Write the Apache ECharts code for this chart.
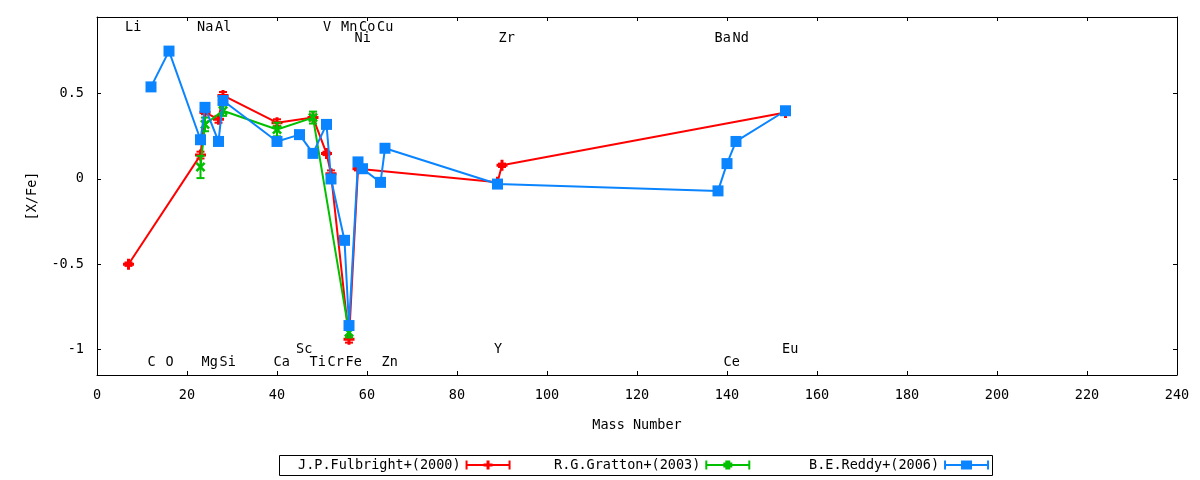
<!DOCTYPE html>
<html>
<head>
<meta charset="utf-8">
<title>[X/Fe] vs Mass Number</title>
<script src="https://cdn.jsdelivr.net/npm/echarts@6/dist/echarts.min.js"></script>
<style>
  html, body { margin: 0; padding: 0; background: #fff; }
  #chart { width: 1200px; height: 480px; }
</style>
</head>
<body>
<div id="chart"></div>
<script>
// element labels along the top and bottom of the frame
const elemNames = ["Li", "C", "O", "Na", "Mg", "Al", "Si", "Ca", "Sc", "Ti", "V", "Cr",
  "Mn", "Fe", "Co", "Ni", "Cu", "Zn", "Y", "Zr", "Ba", "Ce", "Nd", "Eu"];
const elemMass = [7, 12, 16, 23, 24, 27, 28, 40, 45, 48, 51, 52,
  55, 56, 59, 58, 63, 64, 89, 90, 138, 140, 142, 153];
const elemRow = ["t1", "b1", "b1", "t1", "b1", "t1", "b1", "b1", "b2", "b1", "t1", "b1",
  "t1", "b1", "t1", "t2", "t1", "b1", "b2", "t2", "t2", "b1", "t2", "b2"];

// J.P.Fulbright+(2000)
const fulbrightMass = [7, 23, 24, 27, 28, 40, 48, 51, 52, 56, 58, 89, 90, 153];
const fulbrightVal = [-0.50, 0.14, 0.39, 0.35, 0.49, 0.33, 0.36, 0.15, 0.03, -0.94, 0.06, -0.02, 0.08, 0.39];
const fulbrightErr = [0.01, 0.02, 0.01, 0.02, 0.02, 0.02, 0.01, 0.01, 0.02, 0.02, 0.01, 0.01, 0.01, 0.01];

// R.G.Gratton+(2003)
const grattonMass = [23, 24, 28, 40, 48, 56];
const grattonVal = [0.07, 0.32, 0.40, 0.29, 0.36, -0.90];
const grattonErr = [0.065, 0.04, 0.03, 0.04, 0.035, 0.03];

// B.E.Reddy+(2006)
const reddyMass = [12, 16, 23, 24, 27, 28, 40, 45, 48, 51, 52, 55, 56, 58, 59, 63, 64, 89, 138, 140, 142, 153];
const reddyVal = [0.54, 0.75, 0.23, 0.42, 0.22, 0.46, 0.22, 0.26, 0.15, 0.32, 0.00, -0.36, -0.86,
  0.10, 0.06, -0.02, 0.18, -0.03, -0.07, 0.09, 0.22, 0.40];

const yTicks = [-1, -0.5, 0, 0.5];

const FONT = "DejaVu Sans Mono";
const FSIZE = 13.5;
const RED = "#ff0000";
const GREEN = "#00c000";
const BLUE = "#0a84ff";

const rowValue = { t1: 0.89, t2: 0.825, b2: -1.0, b1: -1.078 };

const pairs = (xs, ys) => xs.map((x, i) => [x, ys[i]]);
const errData = (xs, ys, es) => xs.map((x, i) => [x, ys[i] - es[i], ys[i] + es[i]]);

const plusPath = "path://M4 0h3v4h4v3h-4v4h-3v-4h-4v-3h4z";
const crossPath = "path://M0 2L2 0L5.5 3.5L9 0L11 2L7.5 5.5L11 9L9 11L5.5 7.5L2 11L0 9L3.5 5.5Z";

// legend key: line with end caps and the point in the middle
const keyBase = "M0 0h2v9h-2z M43 0h2v9h-2z M0 3.5h45v2h-45z ";
const keyRed = "path://" + keyBase + "M21 0h3v9h-3z M18 3h9v3h-9z";
const keyGreen = "path://" + keyBase + "M20 0h5v9h-5z M18 2h9v5h-9z";
const keyBlue = "path://" + keyBase + "M17 0h11v9h-11z";

function errorBars(color) {
  return function (params, api) {
    const x = api.value(0);
    const lo = api.coord([x, api.value(1)]);
    const hi = api.coord([x, api.value(2)]);
    const w = 4;
    const st = { stroke: color, lineWidth: 2 };
    return {
      type: "group",
      children: [
        { type: "line", shape: { x1: lo[0], y1: lo[1], x2: hi[0], y2: hi[1] }, style: st },
        { type: "line", shape: { x1: lo[0] - w, y1: lo[1], x2: lo[0] + w, y2: lo[1] }, style: st },
        { type: "line", shape: { x1: hi[0] - w, y1: hi[1], x2: hi[0] + w, y2: hi[1] }, style: st },
      ],
    };
  };
}

function legendAt(left, name, icon, color) {
  return {
    left: left,
    top: 458,
    orient: "horizontal",
    align: "right",
    padding: 0,
    itemWidth: 45,
    itemHeight: 9,
    selectedMode: false,
    textStyle: { fontFamily: FONT, fontSize: FSIZE, color: "#000" },
    data: [{ name: name, icon: icon, itemStyle: { color: color } }],
  };
}

const chart = echarts.init(document.getElementById("chart"));

const frameLine = { show: true, onZero: false, lineStyle: { color: "#000", width: 1 } };
const tickStyle = { inside: true, length: 4, lineStyle: { color: "#000", width: 1 } };
const labelFont = { fontFamily: FONT, fontSize: FSIZE, color: "#000" };

const option = {
  animation: false,
  backgroundColor: "#fff",
  grid: { left: 97, top: 17, width: 1080, height: 358, containLabel: false },
  legend: [
    legendAt(298, "J.P.Fulbright+(2000)", keyRed, RED),
    legendAt(554, "R.G.Gratton+(2003)", keyGreen, GREEN),
    legendAt(809, "B.E.Reddy+(2006)", keyBlue, BLUE),
  ],
  graphic: [
    {
      type: "rect",
      shape: { x: 279.5, y: 455.5, width: 713, height: 20 },
      style: { fill: "none", stroke: "#000", lineWidth: 1 },
      silent: true,
    },
  ],
  xAxis: [
    {
      type: "value",
      position: "bottom",
      min: 0,
      max: 240,
      interval: 20,
      name: "Mass Number",
      nameLocation: "middle",
      nameGap: 43,
      nameTextStyle: labelFont,
      axisLine: frameLine,
      axisTick: tickStyle,
      axisLabel: Object.assign({ margin: 13 }, labelFont),
      splitLine: { show: false },
    },
    {
      type: "value",
      position: "top",
      min: 0,
      max: 240,
      interval: 20,
      axisLine: frameLine,
      axisTick: tickStyle,
      axisLabel: { show: false },
      splitLine: { show: false },
    },
  ],
  yAxis: [
    {
      type: "value",
      position: "left",
      min: -1.15,
      max: 0.95,
      name: "[X/Fe]",
      nameLocation: "middle",
      nameRotate: 90,
      nameGap: 58,
      nameTextStyle: labelFont,
      axisLine: frameLine,
      axisTick: Object.assign({ customValues: yTicks }, tickStyle),
      axisLabel: Object.assign({ customValues: yTicks, margin: 13, formatter: (v) => String(v) }, labelFont),
      splitLine: { show: false },
    },
    {
      type: "value",
      position: "right",
      min: -1.15,
      max: 0.95,
      axisLine: frameLine,
      axisTick: Object.assign({ customValues: yTicks }, tickStyle),
      axisLabel: { show: false },
      splitLine: { show: false },
    },
  ],
  series: [
    {
      name: "elements",
      type: "custom",
      silent: true,
      data: elemMass.map((m, i) => [m, rowValue[elemRow[i]]]),
      encode: { x: 0, y: 1 },
      renderItem: function (params, api) {
        const p = api.coord([api.value(0), api.value(1)]);
        return {
          type: "text",
          x: p[0] - 3.5,
          y: p[1],
          style: {
            text: elemNames[params.dataIndex],
            fill: "#000",
            font: FSIZE + "px " + FONT,
            align: "left",
            verticalAlign: "middle",
          },
        };
      },
      z: 1,
    },
    {
      name: "J.P.Fulbright+(2000)",
      type: "line",
      data: pairs(fulbrightMass, fulbrightVal),
      symbol: plusPath,
      symbolSize: 11,
      itemStyle: { color: RED },
      lineStyle: { color: RED, width: 2 },
      z: 2,
    },
    {
      name: "fulbright-err",
      type: "custom",
      data: errData(fulbrightMass, fulbrightVal, fulbrightErr),
      encode: { x: 0, y: [1, 2] },
      renderItem: errorBars(RED),
      z: 2,
    },
    {
      name: "R.G.Gratton+(2003)",
      type: "line",
      data: pairs(grattonMass, grattonVal),
      symbol: crossPath,
      symbolSize: 10,
      itemStyle: { color: GREEN },
      lineStyle: { color: GREEN, width: 2 },
      z: 3,
    },
    {
      name: "gratton-err",
      type: "custom",
      data: errData(grattonMass, grattonVal, grattonErr),
      encode: { x: 0, y: [1, 2] },
      renderItem: errorBars(GREEN),
      z: 3,
    },
    {
      name: "B.E.Reddy+(2006)",
      type: "line",
      data: pairs(reddyMass, reddyVal),
      symbol: "rect",
      symbolSize: 11,
      itemStyle: { color: BLUE },
      lineStyle: { color: BLUE, width: 2 },
      z: 4,
    },
  ],
};

chart.setOption(option);
</script>
</body>
</html>
